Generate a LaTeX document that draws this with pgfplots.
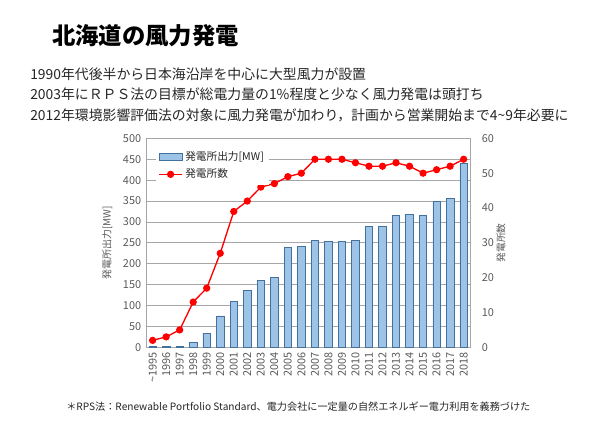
\documentclass[border=0pt]{standalone}
\usepackage{fontspec}
\setmainfont{Noto Sans CJK JP}
\usepackage{pgfplots}
\pgfplotsset{compat=1.18}
\definecolor{barfill}{HTML}{9DC3E6}
\definecolor{barline}{HTML}{41719C}
\definecolor{tickc}{HTML}{595959}
\definecolor{gridc}{HTML}{A6A6A6}
\definecolor{txt}{HTML}{262626}
\pgfplotstableread{
x year mw n
0 1995 2 2
1 1996 2 3
2 1997 3 5
3 1998 11 13
4 1999 34 17
5 2000 75 27
6 2001 109 39
7 2002 136 42
8 2003 160 46
9 2004 167 47
10 2005 240 49
11 2006 242 50
12 2007 256 54
13 2008 254 54
14 2009 254 54
15 2010 256 53
16 2011 289 52
17 2012 289 52
18 2013 316 53
19 2014 318 52
20 2015 315 50
21 2016 349 51
22 2017 356 52
23 2018 440 54
}\data
\begin{document}
\begin{tikzpicture}
\path[use as bounding box] (0pt,0pt) rectangle (450pt,-319.5pt);
\node[anchor=west, font=\fontsize{17.5}{20}\selectfont\bfseries, inner sep=0pt] at (39pt,-27pt) {北海道の風力発電};
\node[anchor=west, font=\fontsize{10.4}{12}\selectfont, text=txt, inner sep=0pt] at (22.5pt,-55.5pt) {1990年代後半から日本海沿岸を中心に大型風力が設置};
\node[anchor=west, font=\fontsize{10.4}{12}\selectfont, text=txt, inner sep=0pt] at (22.5pt,-71pt) {2003年にＲＰＳ法の目標が総電力量の1\%程度と少なく風力発電は頭打ち};
\node[anchor=west, font=\fontsize{10.4}{12}\selectfont, text=txt, inner sep=0pt] at (22.5pt,-86.25pt) {2012年環境影響評価法の対象に風力発電が加わり，計画から営業開始まで4\textasciitilde9年必要に};
\node[anchor=west, font=\fontsize{7.6}{9}\selectfont, text=txt, inner sep=0pt] at (49.5pt,-305.25pt) {＊RPS法：Renewable Portfolio Standard、電力会社に一定量の自然エネルギー電力利用を義務づけた};
\begin{axis}[
  at={(109.4pt,-260.5pt)}, anchor=south west,
  scale only axis, width=243.4pt, height=156.75pt,
  ybar, bar width=5.6pt,
  xmin=-0.5, xmax=23.5, ymin=0, ymax=500,
  ytick distance=50,
  xtick=data,
  xticklabels={\textasciitilde1995,1996,1997,1998,1999,2000,2001,2002,2003,2004,2005,2006,2007,2008,2009,2010,2011,2012,2013,2014,2015,2016,2017,2018},
  x tick label style={rotate=90, anchor=east},
  major tick length=0pt,
  ymajorgrids, grid style={gridc, line width=0.6pt},
  axis line style={gridc},
  tick label style={font=\fontsize{8.2}{9}\selectfont, text=tickc},
  /pgf/number format/assume math mode=true,
  ylabel={発電所出力[MW]},
  every axis y label/.style={at={(rel axis cs:0,0.5)}, xshift=-29pt, rotate=90, anchor=center,
    font=\fontsize{7.5}{9}\selectfont, text=tickc},
]
\addplot[fill=barfill, draw=barline, line width=0.5pt] table[x=x, y=mw] {\data};
\end{axis}
\begin{axis}[
  at={(109.4pt,-260.5pt)}, anchor=south west,
  scale only axis, width=243.4pt, height=156.75pt,
  xmin=-0.5, xmax=23.5, ymin=0, ymax=60,
  ytick distance=10,
  axis x line=none,
  axis y line*=right,
  major tick length=0pt,
  axis line style={gridc},
  y axis line style={-},
  tick label style={font=\fontsize{8.2}{9}\selectfont, text=tickc},
  yticklabel style={xshift=5pt},
  /pgf/number format/assume math mode=true,
  ylabel={発電所数},
  every axis y label/.style={at={(rel axis cs:1,0.5)}, xshift=23pt, rotate=90, anchor=center,
    font=\fontsize{7.3}{9}\selectfont, text=tickc},
  legend style={at={(0.03,0.965)}, anchor=north west, draw=none, fill=white,
    font=\fontsize{8}{9}\selectfont, text=txt, row sep=1pt, inner sep=2pt},
  legend cell align=left,
]
\addlegendimage{area legend, fill=barfill, draw=barline, line width=0.5pt}
\addlegendentry{発電所出力[MW]}
\addplot[red, line width=1pt, mark=*, mark size=2.2pt, mark options={fill=red, draw=red}] table[x=x, y=n] {\data};
\addlegendentry{発電所数}
\end{axis}
\end{tikzpicture}
\end{document}
